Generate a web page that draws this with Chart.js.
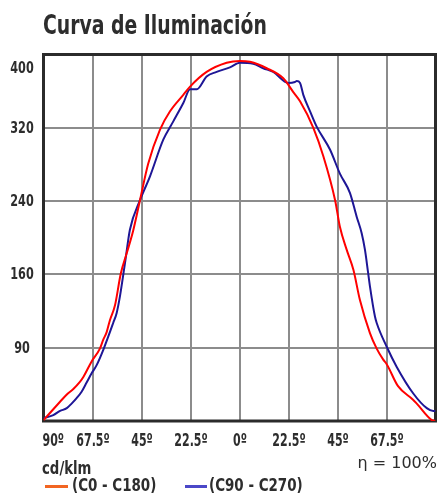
<!DOCTYPE html>
<html>
<head>
<meta charset="utf-8">
<script src="https://cdn.jsdelivr.net/npm/chart.js@4.4.1/dist/chart.umd.min.js"></script>
<style>
  html, body { margin: 0; padding: 0; background: #fff; }
  #wrap { position: relative; width: 438px; height: 496px; overflow: hidden; }
  canvas { position: absolute; left: 0; top: 0; }
  .txt { position: absolute; white-space: nowrap; line-height: 1; color: #2d2d2d;
         font-family: "DejaVu Sans Condensed", "DejaVu Sans", sans-serif; font-weight: bold;
         font-stretch: condensed; transform-origin: 0 50%; }
  .tick { position: absolute; white-space: nowrap; line-height: 1; color: #2d2d2d;
          font-family: "DejaVu Sans Condensed", "DejaVu Sans", sans-serif; font-weight: bold;
          font-stretch: condensed; }
  .ln { position: absolute; height: 3px; }
</style>
</head>
<body>
<div id="wrap">
  <canvas id="c" width="438" height="496"></canvas>
  <div class="txt" style="left:43px; top:10.5px; font-size:27px; transform:scaleX(0.775);">Curva de Iluminación</div>
  <div class="txt" style="left:42px; top:459px; font-size:18px; transform:scaleX(0.82);">cd/klm</div>
  <div class="txt" style="right:1px; top:454.5px; font-size:16px; font-weight:normal; font-stretch:normal; font-family:'DejaVu Sans', sans-serif;">η = 100%</div>
  <div class="ln" style="left:45px; top:484.5px; width:23px; background:#f26522;"></div>
  <div class="txt" id="leg0" style="left:72px; top:476px; font-size:18px; transform:scaleX(0.83);"></div>
  <div class="ln" style="left:185px; top:484.5px; width:22px; background:#4b48c8;"></div>
  <div class="txt" id="leg1" style="left:209px; top:476px; font-size:18px; transform:scaleX(0.83);"></div>
</div>
<script>
// ---- data ----
const redAngles = [-90, -82.4, -79.3, -76.3, -73.2, -71.7, -67.9, -64.1, -62.5, -61, -59.5, -57.2, -54.5, -51.8, -48.8, -45.7, -41.9, -36.5, -31.9, -25.8, -22.7, -15.1, -5.9, 0.2, 4.8, 12.5, 20.1, 24.7, 27.8, 33.9, 38.5, 43.9, 46.1, 49.2, 52.3, 55.3, 59.9, 63.0, 66.0, 67.6, 72.8, 79.8, 81.4, 88.3, 90];
const redValues = [1, 21, 29, 35, 43, 48, 65, 79, 89, 97, 110, 126, 161, 183, 208, 241, 281, 318, 338, 356, 365, 381, 391, 393, 392, 385, 374, 359, 349, 320, 289, 241, 212, 187, 165, 132, 96, 79, 67, 62, 38, 23, 19, 1, 0];

const blueAngles = [-90, -85.5, -82.4, -79.3, -77.1, -74.8, -72.5, -70.2, -67.9, -65.6, -62.5, -58.0, -56.4, -54.9, -52.6, -50.3, -45.7, -41.1, -35.0, -30.4, -25.8, -22.7, -19.6, -15.1, -10.5, -4.4, 0.2, 6.3, 10.9, 15.5, 22.4, 25.5, 26.3, 27.8, 29.3, 32.4, 35.5, 41.6, 46.1, 50.7, 53.8, 56.1, 57.6, 59.1, 59.9, 62.2, 63.0, 67.6, 72.2, 79.8, 86.0, 89.0, 90];
const blueValues = [3, 6.5, 11, 14, 19, 25, 32, 42, 52, 61, 78, 107, 118, 136, 172, 209, 241, 267, 307, 327, 347, 362, 362, 376, 381, 386, 391, 390, 385, 381, 369, 370, 371, 369, 356, 338, 321, 296, 270, 249, 223, 205, 187, 161, 147, 114, 107, 81, 59, 30, 14, 11, 11];

const xTickValues = [-90, -67.5, -45, -22.5, 0, 22.5, 45, 67.5, 90];
const xTickLabels = ['90º', '67.5º', '45º', '22.5º', '0º', '22.5º', '45º', '67.5º', ''];
const yTickValues = [0, 80, 160, 240, 320, 385, 400];
const yTickLabels = ['', '90', '160', '240', '320', '400', ''];
const seriesNames = ['(C0 - C180)', '(C90 - C270)'];

// ---- chart ----
const toPts = (xs, ys) => xs.map((x, i) => ({ x: x, y: ys[i] }));
document.getElementById('leg0').textContent = seriesNames[0];
document.getElementById('leg1').textContent = seriesNames[1];

const framePlugin = {
  id: 'frame',
  beforeDatasetsDraw(chart) {
    const { ctx, chartArea: a } = chart;
    ctx.save();
    ctx.strokeStyle = '#2b2b2b';
    ctx.lineWidth = 3;
    ctx.strokeRect(a.left, a.top, a.right - a.left, a.bottom - a.top);
    ctx.restore();
  }
};

// tick labels placed as HTML text at positions given by the chart's own scales
let labelsPlaced = false;
const htmlTicksPlugin = {
  id: 'htmlTicks',
  afterRender(chart) {
    if (labelsPlaced) return;
    labelsPlaced = true;
    const wrap = document.getElementById('wrap');
    const xs = chart.scales.x, ys = chart.scales.y;
    xTickValues.forEach((v, i) => {
      if (!xTickLabels[i]) return;
      const d = document.createElement('div');
      d.className = 'tick';
      d.textContent = xTickLabels[i];
      d.style.fontSize = '17px';
      d.style.left = xs.getPixelForValue(v) + 'px';
      d.style.top = (xs.top + 18.5) + 'px';
      if (i === 0) { d.style.transformOrigin = '0 50%'; d.style.transform = 'translate(-1.5px,-50%) scaleX(0.72)'; }
      else d.style.transform = 'translate(-50%,-50%) scaleX(0.72)';
      wrap.appendChild(d);
    });
    yTickValues.forEach((v, i) => {
      if (!yTickLabels[i]) return;
      const d = document.createElement('div');
      d.className = 'tick';
      d.textContent = yTickLabels[i];
      d.style.fontSize = '16px';
      d.style.left = '22px';
      d.style.top = ys.getPixelForValue(v) + 'px';
      d.style.transform = 'translate(-50%,-50%) scaleX(0.78)';
      wrap.appendChild(d);
    });
  }
};

new Chart(document.getElementById('c'), {
  type: 'line',
  data: {
    datasets: [
      { label: seriesNames[0], data: toPts(redAngles, redValues), borderColor: '#ff0000', borderWidth: 2,
        pointRadius: 0, cubicInterpolationMode: 'monotone', fill: false },
      { label: seriesNames[1], data: toPts(blueAngles, blueValues), borderColor: '#1e1696', borderWidth: 2,
        pointRadius: 0, cubicInterpolationMode: 'monotone', fill: false }
    ]
  },
  options: {
    responsive: false,
    animation: false,
    devicePixelRatio: 1,
    layout: { padding: { left: 0, top: 54.5, right: 2.5, bottom: 45 } },
    plugins: { legend: { display: false }, title: { display: false }, tooltip: { enabled: false } },
    scales: {
      x: {
        type: 'linear', min: -90, max: 90,
        afterBuildTicks: (s) => { s.ticks = xTickValues.map(v => ({ value: v })); },
        afterFit: (s) => { s.height = 30; },
        border: { display: false },
        grid: { drawTicks: false, lineWidth: 2,
          color: (c) => (c.tick && (c.tick.value === -90 || c.tick.value === 90)) ? 'rgba(0,0,0,0)' : '#8c8c8c' },
        ticks: { display: false, autoSkip: false }
      },
      y: {
        type: 'linear', min: 0, max: 400,
        afterBuildTicks: (s) => { s.ticks = yTickValues.map(v => ({ value: v })); },
        afterFit: (s) => { s.width = 43.5; },
        border: { display: false },
        grid: { drawTicks: false, lineWidth: 2,
          color: (c) => (c.tick && [0, 385, 400].includes(c.tick.value)) ? 'rgba(0,0,0,0)' : '#8c8c8c' },
        ticks: { display: false, autoSkip: false }
      }
    }
  },
  plugins: [framePlugin, htmlTicksPlugin]
});
</script>
</body>
</html>
